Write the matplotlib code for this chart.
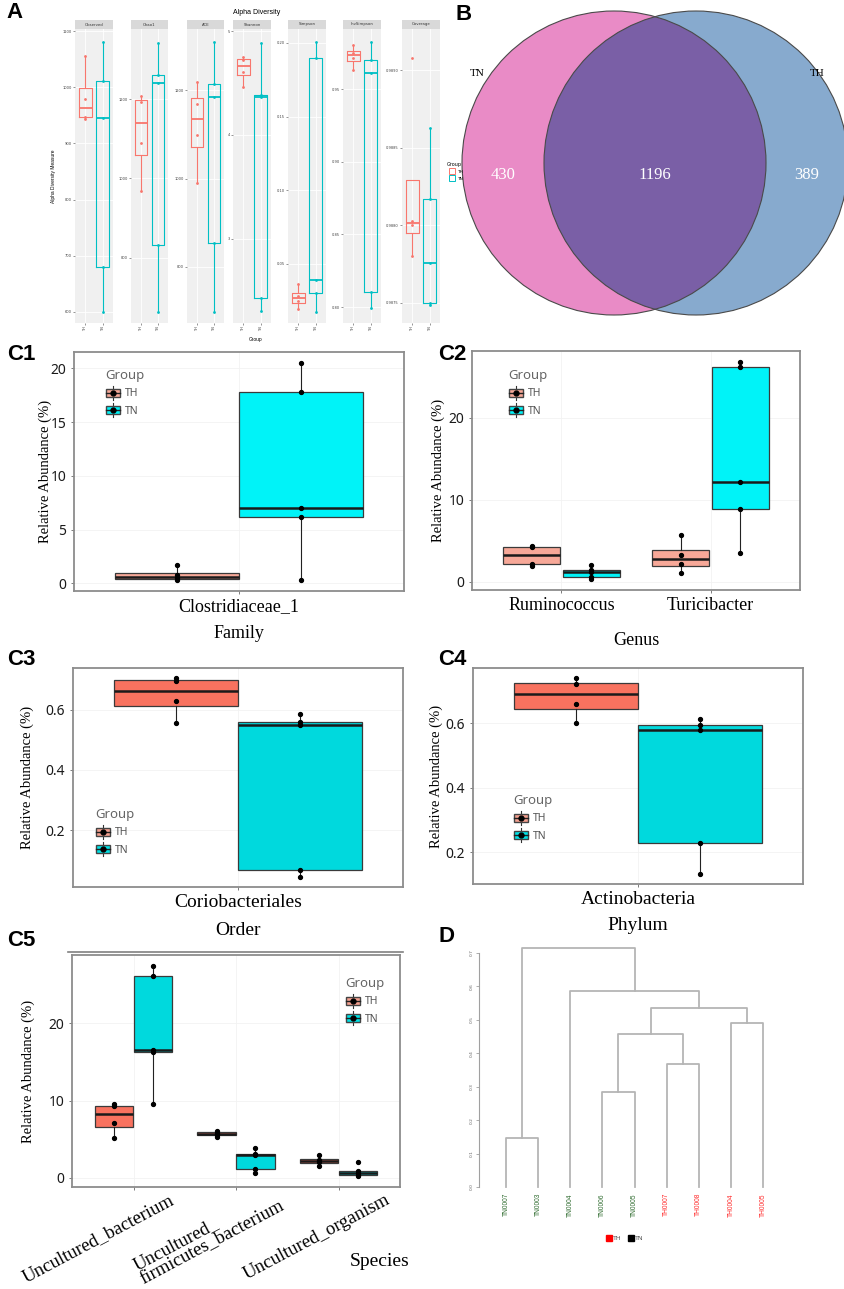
import matplotlib
matplotlib.use("Agg")
import matplotlib.pyplot as plt
import numpy as np
from matplotlib.patches import Rectangle, Circle
from matplotlib.lines import Line2D
from matplotlib.legend_handler import HandlerPatch
from matplotlib.transforms import ScaledTranslation

W, H = 844, 1289
SERIF = "Liberation Serif"
SANS = "Liberation Sans"
TICK = "Noto Sans"

groups = ["TH", "TN"]

# ---- A: alpha diversity (samples per group) ----
alpha_metrics = ["Observed", "Chao1", "ACE", "Shannon", "Simpson", "InvSimpson", "Coverage"]
alpha_th = [
    [943, 948, 980, 1055],
    [967, 1089, 1193, 1208],
    [991, 1100, 1170, 1220],
    [4.46, 4.61, 4.72, 4.75],
    [0.0194, 0.0250, 0.0285, 0.0367],
    [0.9633, 0.9715, 0.9750, 0.9806],
    [0.98780, 0.98800, 0.98803, 0.98908],
]
alpha_tn = [
    [600, 679, 945, 1011, 1080],
    [663, 833, 1240, 1261, 1342],
    [698, 855, 1186, 1214, 1309],
    [2.31, 2.43, 4.37, 4.38, 4.89],
    [0.0173, 0.030, 0.039, 0.19, 0.2007],
    [0.7993, 0.81, 0.961, 0.970, 0.9827],
    [0.98749, 0.98750, 0.98776, 0.98817, 0.98863],
]
alpha_ticks = [
    [600, 700, 800, 900, 1000, 1100],
    [800, 1000, 1200],
    [800, 1000, 1200],
    [3, 4, 5],
    [0.05, 0.10, 0.15, 0.20],
    [0.80, 0.85, 0.90, 0.95],
    [0.9875, 0.9880, 0.9885, 0.9890],
]
alpha_fmt = ["{:.0f}", "{:.0f}", "{:.0f}", "{:.0f}", "{:.2f}", "{:.2f}", "{:.4f}"]
alpha_ylims = [(580, 1104), (635, 1377), (673, 1339), (2.19, 5.02),
               (0.0099, 0.2095), (0.789, 0.9914), (0.987371, 0.989265)]

# ---- B: venn ----
venn_sets = ["TN", "TH"]
venn_counts = [430, 1196, 389]

# ---- C: relative abundance (%) per taxon, samples per group ----
c1_taxa = ["Clostridiaceae_1"]
c1_th = [[0.3, 0.5, 0.75, 1.7]]
c1_tn = [[0.3, 6.2, 7.0, 17.8, 20.5]]
c1_ticks = [0, 5, 10, 15, 20]

c2_taxa = ["Ruminococcus", "Turicibacter"]
c2_th = [[1.9, 2.2, 4.2, 4.4], [1.0, 2.2, 3.2, 5.7]]
c2_tn = [[0.3, 0.6, 1.2, 1.4, 2.0], [3.5, 8.9, 12.1, 26.2, 26.8]]
c2_ticks = [0, 10, 20]

c3_taxa = ["Coriobacteriales"]
c3_th = [[0.555, 0.63, 0.695, 0.705]]
c3_tn = [[0.045, 0.07, 0.548, 0.56, 0.585]]
c3_ticks = [0.2, 0.4, 0.6]

c4_taxa = ["Actinobacteria"]
c4_th = [[0.60, 0.66, 0.72, 0.74]]
c4_tn = [[0.132, 0.228, 0.577, 0.594, 0.614]]
c4_ticks = [0.2, 0.4, 0.6]

c5_taxa = ["Uncultured_bacterium", "Uncultured_\nfirmicutes_bacterium", "Uncultured_organism"]
c5_th = [[5.2, 7.1, 9.3, 9.5], [5.3, 5.6, 5.8, 6.1], [1.46, 2.1, 2.3, 2.97]]
c5_tn = [[9.6, 16.3, 16.5, 26.2, 27.5], [0.6, 1.15, 3.0, 3.1, 3.9], [0.17, 0.4, 0.6, 0.9, 2.1]]
c5_ticks = [0, 10, 20]

# ---- D: hierarchical clustering ----
leaf_names = ["TN0007", "TN0003", "TN0004", "TN0006", "TN0005",
              "TH0007", "TH0008", "TH0004", "TH0005"]
leaf_groups = ["TN"] * 5 + ["TH"] * 4
# (left cluster, right cluster, height); new clusters numbered after the leaves
merges = [(0, 1, 0.148), (3, 4, 0.285), (5, 6, 0.367), (7, 8, 0.49),
          (10, 11, 0.459), (13, 12, 0.537), (2, 14, 0.587), (9, 15, 0.715)]
d_ticks = [0.0, 0.1, 0.2, 0.3, 0.4, 0.5, 0.6, 0.7]


fig = plt.figure(figsize=(W / 100, H / 100), dpi=100)


def rect(x0, y0, x1, y1):
    return [x0 / W, 1 - y1 / H, (x1 - x0) / W, (y1 - y0) / H]


def put(x, y, s, **kw):
    kw.setdefault("ha", "center")
    kw.setdefault("va", "center")
    fig.text(x / W, 1 - y / H, s, **kw)


# panel letters
for lab, x, y in [("A", 14, 13), ("B", 464, 15), ("C1", 21, 354), ("C2", 452, 354),
                  ("C3", 21, 660), ("C4", 452, 660), ("C5", 21, 940), ("D", 447, 937)]:
    put(x, y, lab, fontsize=16, fontweight="bold", family=SANS)

# ================= A =================
acol = {"TH": "#F8766D", "TN": "#00BFC4"}
facet_x = [(75, 113), (131, 168), (187, 224), (233, 271), (288, 326), (343, 381), (402, 440)]
for i, name in enumerate(alpha_metrics):
    x0, x1 = facet_x[i]
    ax = fig.add_axes(rect(x0, 29, x1, 323))
    ax.set_facecolor("#F0F0F0")
    for k, (vals, g) in enumerate([(alpha_th[i], "TH"), (alpha_tn[i], "TN")]):
        c = acol[g]
        ax.boxplot([vals], positions=[k + 1], widths=0.75, showfliers=False, showcaps=False,
                   manage_ticks=False, boxprops=dict(color=c, lw=0.8),
                   medianprops=dict(color=c, lw=1.3), whiskerprops=dict(color=c, lw=0.8))
        ax.plot([k + 1] * len(vals), vals, "o", color=c, ms=2, mec="none", zorder=4)
    ax.set_xlim(0.4, 2.6)
    ax.set_ylim(*alpha_ylims[i])
    ax.set_yticks(alpha_ticks[i])
    ax.set_yticklabels([alpha_fmt[i].format(t) for t in alpha_ticks[i]])
    ax.set_xticks([1, 2])
    ax.set_xticklabels(groups, rotation=90)
    ax.tick_params(labelsize=2.6, length=1.2, width=0.4, pad=1, colors="#444444")
    ax.grid(color="white", lw=0.6)
    ax.set_axisbelow(True)
    for s in ax.spines.values():
        s.set_visible(False)
    ax.add_patch(Rectangle((0, 1), 1, 9 / 294, transform=ax.transAxes, clip_on=False,
                           fc="#D9D9D9", ec="none"))
    ax.text(0.5, 1 + 4.5 / 294, name, transform=ax.transAxes, ha="center", va="center",
            fontsize=2.8, color="#333333")

put(257, 12, "Alpha Diversity", fontsize=5, family=SANS)
put(53, 176, "Alpha Diversity Measure", fontsize=3.5, rotation=90, family=SANS)
put(256, 340, "Group", fontsize=3.5, family=SANS)
fig.legend(handles=[Line2D([], [], marker="s", ls="none", mfc="white", mec=acol[g], ms=4, mew=0.7)
                    for g in groups],
           labels=groups, title="Group", loc="upper left",
           bbox_to_anchor=(445 / W, 1 - 160 / H), frameon=False, borderpad=0,
           fontsize=3.2, title_fontsize=3.5, handletextpad=0.3, labelspacing=0.6,
           alignment="left")

# ================= B =================
axv = fig.add_axes(rect(430, 0, 844, 330))
axv.set_xlim(430, 844)
axv.set_ylim(330, 0)
axv.axis("off")
cy, r = 163, 152
cx_tn, cx_th = 614, 696
pink = Circle((cx_tn, cy), r, fc="#E98BC6", ec="none")
blue = Circle((cx_th, cy), r, fc="#87AACE", ec="none")
axv.add_patch(pink)
axv.add_patch(blue)
lens = Circle((cx_th, cy), r, fc="#7A5FA6", ec="none")
axv.add_patch(lens)
lens.set_clip_path(pink)
for cx in (cx_tn, cx_th):
    axv.add_patch(Circle((cx, cy), r, fc="none", ec="#4A4A4A", lw=0.8))
mid_left = (cx_tn - r + cx_th - r) / 2
mid_lens = (cx_th - r + cx_tn + r) / 2
mid_right = (cx_tn + r + cx_th + r) / 2
for x, n in zip([mid_left, mid_lens, mid_right], venn_counts):
    axv.text(x, cy + 12, str(n), color="white", fontsize=12, family=SERIF, ha="center", va="center")
axv.text(cx_tn - r * 0.9, cy - 90, venn_sets[0], fontsize=8, family=SERIF, ha="center", va="center")
axv.text(cx_th + r * 0.8, cy - 90, venn_sets[1], fontsize=8, family=SERIF, ha="center", va="center")


# ================= C =================
class BoxKey(HandlerPatch):
    def create_artists(self, legend, orig_handle, xdescent, ydescent, width, height, fontsize, trans):
        cx = width / 2 - xdescent
        cy = height / 2 - ydescent
        bw, bh = width * 0.9, height * 0.8
        whisk = Line2D([cx, cx], [cy - bh * 0.9, cy + bh * 0.9], color="#333333", lw=0.8, transform=trans)
        body = Rectangle((cx - bw / 2, cy - bh / 2), bw, bh, fc=orig_handle.get_facecolor(),
                         ec="#444444", lw=1.0, transform=trans)
        mid = Line2D([cx - bw / 2, cx + bw / 2], [cy, cy], color="#222222", lw=1.0, transform=trans)
        dot = Line2D([cx], [cy], marker="o", ms=3.5, color="black", ls="none", transform=trans)
        return [whisk, body, mid, dot]


def abundance(px, taxa, th, tn, ticks, cols, width, offset, leg_xy, ylab_x, tick_fs=13, key_cols=None):
    x0, y0, x1, y1 = px
    ax = fig.add_axes(rect(*px))
    pos = np.arange(1, len(taxa) + 1)
    for vals, col, sgn in [(th, cols[0], -1), (tn, cols[1], 1)]:
        p = pos + sgn * offset
        ax.boxplot(vals, positions=p, widths=width, patch_artist=True, showfliers=False,
                   showcaps=False, manage_ticks=False,
                   boxprops=dict(facecolor=col, edgecolor="#3A3A3A", lw=0.9),
                   medianprops=dict(color="#1A1A1A", lw=1.8),
                   whiskerprops=dict(color="#222222", lw=0.8))
        for xp, v in zip(p, vals):
            ax.plot([xp] * len(v), v, "o", color="black", ms=2.8, zorder=5)
    allv = [x for v in th + tn for x in v]
    lo, hi = min(allv), max(allv)
    pad = 0.05 * (hi - lo)
    ax.set_ylim(lo - pad, hi + pad)
    ax.set_xlim(0.4, len(taxa) + 0.6)
    ax.set_yticks(ticks)
    ax.set_yticklabels([("{:g}".format(t)) for t in ticks], family=TICK, fontsize=10, color="#1A1A1A")
    ax.set_xticks(pos)
    ax.set_xticklabels(taxa, family=SERIF, fontsize=tick_fs)
    ax.tick_params(axis="both", length=2, width=0.6, color="#666666")
    ax.tick_params(axis="x", pad=3)
    ax.grid(color="#F2F2F2", lw=0.6)
    ax.set_axisbelow(True)
    for s in ax.spines.values():
        s.set_color("#8C8C8C")
        s.set_linewidth(1.3)
    ax.set_ylabel("Relative Abundance (%)", family=SERIF, fontsize=10.5)
    ax.yaxis.set_label_coords((ylab_x - x0) / (x1 - x0), 0.5)
    kc = key_cols if key_cols else cols
    handles = [Rectangle((0, 0), 1, 1, fc=c) for c in kc]
    leg = ax.legend(handles, groups, title="Group", loc="upper left",
                    bbox_to_anchor=(leg_xy[0] / W, 1 - leg_xy[1] / H), bbox_transform=fig.transFigure,
                    frameon=False, borderpad=0, handler_map={Rectangle: BoxKey()},
                    handlelength=1.5, handleheight=1.1, labelspacing=0.55, handletextpad=0.4,
                    alignment="left", prop=dict(family=TICK, size=7.5),
                    title_fontproperties=dict(family=TICK, size=9.5))
    for t in leg.get_texts():
        t.set_color("#555555")
    leg.get_title().set_color("#666666")
    return ax


light = ("#F7A898", "#00F3F8")
strong = ("#F8725F", "#00D9DD")

ax = abundance((74, 352, 404, 591), c1_taxa, c1_th, c1_tn, c1_ticks, light, 0.45, 0.225,
               (100, 364), 52)
ax.set_xlabel("Family", family=SERIF, fontsize=13)
ax.xaxis.set_label_coords(0.5, -34 / 239)

ax = abundance((472, 351, 800, 590), c2_taxa, c2_th, c2_tn, c2_ticks, light, 0.38, 0.2,
               (503, 364), 445)
ax.set_xlabel("Genus", family=SERIF, fontsize=13)
ax.xaxis.set_label_coords(0.5, -42 / 239)

ax = abundance((73, 668, 403, 887), c3_taxa, c3_th, c3_tn, c3_ticks, strong, 0.45, 0.225,
               (90, 803), 34, tick_fs=14, key_cols=("#F4A08F", "#00E2E6"))
ax.set_xlabel("Order", family=SERIF, fontsize=14)
ax.xaxis.set_label_coords(0.5, -35 / 219)

ax = abundance((473, 668, 803, 884), c4_taxa, c4_th, c4_tn, c4_ticks, strong, 0.45, 0.225,
               (508, 789), 443, tick_fs=14, key_cols=("#F4A08F", "#00E2E6"))
ax.set_xlabel("Phylum", family=SERIF, fontsize=14)
ax.xaxis.set_label_coords(0.5, -33 / 216)

ax = abundance((72, 955, 400, 1187), c5_taxa, c5_th, c5_tn, c5_ticks, strong, 0.375, 0.19,
               (340, 972), 35, tick_fs=13.5, key_cols=("#F4A08F", "#00E2E6"))
ax.tick_params(axis="x", pad=1)
for t, (dx, dy) in zip(ax.get_xticklabels(), [(0.35, 0.0), (0.36, 0.08), (0.46, 0.0)]):
    t.set_rotation(28)
    t.set_ha("right")
    t.set_va("top")
    t.set_rotation_mode("anchor")
    t.set_multialignment("left")
    t.set_linespacing(0.95)
    t.set_transform(t.get_transform() + ScaledTranslation(dx, dy, fig.dpi_scale_trans))
put(380, 1262, "Species", family=SERIF, fontsize=14)
fig.add_artist(Line2D([68 / W, 403 / W], [1 - 952 / H, 1 - 952 / H], color="#808080", lw=1.2))

# ================= D =================
axd = fig.add_axes(rect(479, 940, 800, 1190))
xs = {i: i + 1.0 for i in range(len(leaf_names))}
hs = {i: 0.0 for i in range(len(leaf_names))}
for k, (a, b, h) in enumerate(merges):
    cid = len(leaf_names) + k
    axd.plot([xs[a], xs[a], xs[b], xs[b]], [hs[a], h, h, hs[b]], color="#B5B5B5", lw=1.3)
    xs[cid] = (xs[a] + xs[b]) / 2
    hs[cid] = h
axd.set_xlim(0.16, 10.15)
axd.set_ylim(-0.009, 0.739)
for s in ["top", "right", "bottom"]:
    axd.spines[s].set_visible(False)
axd.spines["left"].set_bounds(0, 0.7)
axd.spines["left"].set_color("#A0A0A0")
axd.set_xticks([])
axd.set_yticks(d_ticks)
axd.set_yticklabels(["{:.1f}".format(t) for t in d_ticks], rotation=90, va="center")
axd.tick_params(axis="y", labelsize=3.2, length=2, width=0.6, color="#A0A0A0", labelcolor="#666666", pad=2)
dcol = {"TN": "#2E6B2E", "TH": "#FF2A2A"}
for i, (nm, g) in enumerate(zip(leaf_names, leaf_groups)):
    axd.text(xs[i], -0.018, nm, rotation=90, ha="center", va="top", fontsize=4.8,
             color=dcol[g], family=SANS)
fig.legend(handles=[Line2D([], [], marker="s", ls="none", color=c, ms=4)
                    for c in ("#FF0000", "#000000")],
           labels=groups, ncol=2, loc="center", bbox_to_anchor=(625 / W, 1 - 1238 / H),
           frameon=False, fontsize=4.5, handletextpad=0.3, columnspacing=1.0, handlelength=0.8,
           labelcolor="#555555")

fig.savefig("out.png", dpi=100)
